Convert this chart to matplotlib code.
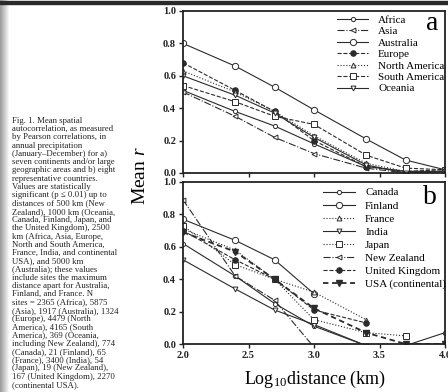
import numpy as np
import matplotlib
matplotlib.use("Agg")
import matplotlib.pyplot as plt
from matplotlib.patches import Rectangle

plt.rcParams['font.family'] = ['Liberation Serif', 'DejaVu Serif']
plt.rcParams['mathtext.fontset'] = 'custom'
plt.rcParams['mathtext.rm'] = 'Liberation Serif'
plt.rcParams['mathtext.it'] = 'Liberation Serif:italic'

# log10 distance classes (km)
log_dist = [2.0, 2.398, 2.699, 3.0, 3.398, 3.699, 4.0]

# panel a: continents / large areas
africa = [0.51, 0.38, 0.29, 0.18, 0.04, 0.01, 0.01]
asia = [0.50, 0.35, 0.22, 0.12, 0.03, 0.00, 0.01]
australia = [0.80, 0.66, 0.53, 0.39, 0.21, 0.08, 0.02]
europe = [0.68, 0.51, 0.38, 0.20, 0.04, 0.01, 0.02]
north_america = [0.63, 0.50, 0.38, 0.23, 0.06, 0.01, 0.01]
south_america = [0.54, 0.44, 0.35, 0.30, 0.11, 0.03, 0.02]
oceania = [0.60, 0.48, 0.37, 0.22, 0.05, 0.00, 0.01]

# panel b: countries (nan = no data)
nan = np.nan
canada = [0.62, 0.42, 0.25, 0.11, -0.01, -0.01, 0.07]
finland = [0.77, 0.64, 0.52, 0.31, nan, nan, nan]
france = [0.71, 0.58, 0.40, 0.32, 0.15, nan, nan]
india = [0.52, 0.34, 0.21, 0.12, -0.01, nan, nan]
japan = [0.73, 0.49, 0.40, 0.15, 0.07, 0.05, nan]
new_zealand = [0.89, 0.42, 0.27, -0.02, nan, nan, nan]
united_kingdom = [0.70, 0.52, 0.40, 0.21, 0.13, nan, nan]
usa = [0.69, 0.57, 0.40, 0.22, 0.07, 0.00, 0.00]

caption = [
    "Fig. 1. Mean spatial",
    "autocorrelation, as measured",
    "by Pearson correlations, in",
    "annual precipitation",
    "(January\u2013December) for a)",
    "seven continents and/or large",
    "geographic areas and b) eight",
    "representative countries.",
    "Values are statistically",
    "significant (p \u2264 0.01) up to",
    "distances of 500 km (New",
    "Zealand), 1000 km (Oceania,",
    "Canada, Finland, Japan, and",
    "the United Kingdom), 2500",
    "km (Africa, Asia, Europe,",
    "North and South America,",
    "France, India, and continental",
    "USA), and 5000 km",
    "(Australia); these values",
    "include sites the maximum",
    "distance apart for Australia,",
    "Finland, and France. N",
    "sites = 2365 (Africa), 5875",
    "(Asia), 1917 (Australia), 1324",
    "(Europe), 4479 (North",
    "America), 4165 (South",
    "America), 369 (Oceania,",
    "including New Zealand), 774",
    "(Canada), 21 (Finland), 65",
    "(France), 3400 (India), 54",
    "(Japan), 19 (New Zealand),",
    "167 (United Kingdom), 2270",
    "(continental USA).",
]

W, H = 448, 392
fig = plt.figure(figsize=(W / 100, H / 100), dpi=100)

# scan artefacts: grey left edge and dark top rule
grad = np.tile(np.linspace(0.62, 1.0, 10), (H, 1))
fig.figimage(grad, xo=0, yo=0, cmap='gray', vmin=0, vmax=1, zorder=0)
fig.add_artist(Rectangle((0, 1 - 3.5 / H), 1, 2.5 / H, transform=fig.transFigure, color='#2a2a2a'))

ax_a = fig.add_axes([183 / W, 1 - 173 / H, 262 / W, 162 / H])
ax_b = fig.add_axes([183 / W, 1 - 344 / H, 262 / W, 162 / H])

c = '#2b2b2b'
lw = 0.8
kw = dict(color=c, lw=lw, mec=c, mew=0.7, clip_on=True)

ax_a.plot(log_dist, africa, '-', marker='o', ms=3, mfc='white', label="Africa", **kw)
ax_a.plot(log_dist, asia, '-.', marker='<', ms=3.5, mfc='white', label="Asia", **kw)
ax_a.plot(log_dist, australia, '-', marker='o', ms=4.5, mfc='white', label="Australia", **kw)
ax_a.plot(log_dist, europe, '--', marker='o', ms=4, mfc=c, label="Europe", **kw)
ax_a.plot(log_dist, north_america, ':', marker='^', ms=3.5, mfc='white', label="North America", **kw)
ax_a.plot(log_dist, south_america, '--', marker='s', ms=4, mfc='white', label="South America", **kw)
ax_a.plot(log_dist, oceania, '-', marker='v', ms=3.5, mfc='white', label="Oceania", **kw)

ax_b.plot(log_dist, canada, '-', marker='o', ms=3, mfc='white', label="Canada", **kw)
ax_b.plot(log_dist, finland, '-', marker='o', ms=4.5, mfc='white', label="Finland", **kw)
ax_b.plot(log_dist, france, ':', marker='^', ms=3.5, mfc='white', label="France", **kw)
ax_b.plot(log_dist, india, '-', marker='v', ms=3.5, mfc='white', label="India", **kw)
ax_b.plot(log_dist, japan, ':', marker='s', ms=4, mfc='white', label="Japan", **kw)
ax_b.plot(log_dist, new_zealand, '-.', marker='<', ms=3.5, mfc='white', label="New Zealand", **kw)
ax_b.plot(log_dist, united_kingdom, '--', marker='o', ms=4, mfc=c, label="United Kingdom", **kw)
ax_b.plot(log_dist, usa, marker='v', ms=4, mfc=c, color=c, lw=1.3, ls=(0, (3, 2)), mec=c,
          label="USA (continental)")

for ax in (ax_a, ax_b):
    ax.set_xlim(2.0, 4.0)
    ax.set_ylim(0.0, 1.0)
    ax.set_xticks([2.0, 2.5, 3.0, 3.5, 4.0])
    ax.set_yticks([0.0, 0.2, 0.4, 0.6, 0.8, 1.0])
    ax.xaxis.set_major_formatter(plt.FormatStrFormatter('%.1f'))
    ax.yaxis.set_major_formatter(plt.FormatStrFormatter('%.1f'))
    ax.tick_params(direction='out', length=3, width=1, labelsize=7.5, colors='#222', pad=2)
    for lab in ax.get_xticklabels() + ax.get_yticklabels():
        lab.set_fontweight('bold')
    for s in ax.spines.values():
        s.set_linewidth(1.3)
        s.set_color('#222')

ax_a.tick_params(labelbottom=False)

ax_a.legend(loc='upper left', bbox_to_anchor=(0.588, 0.975), frameon=False, fontsize=8,
            handlelength=2.8, handletextpad=0.9, labelspacing=0.15, borderpad=0, borderaxespad=0)
ax_b.legend(loc='upper left', bbox_to_anchor=(0.534, 0.965), frameon=False, fontsize=8,
            handlelength=2.9, handletextpad=0.9, labelspacing=0.3, borderpad=0, borderaxespad=0)

ax_a.text(0.95, 0.925, "a", transform=ax_a.transAxes, fontsize=20, ha='center', va='center')
ax_b.text(0.943, 0.905, "b", transform=ax_b.transAxes, fontsize=20, ha='center', va='center')

fig.text(140 / W, 1 - 176 / H, "Mean $r$", rotation=90, fontsize=14, ha='center', va='center')
fig.text(315 / W, 1 - 379 / H, r"Log$_{10}$distance (km)", fontsize=13, ha='center', va='center')

for i, line in enumerate(caption):
    fig.text(12 / W, 1 - (121 + i * 8.25) / H, line, fontsize=6.3, ha='left', va='center', color='#222')

fig.savefig("out.png", dpi=100)
